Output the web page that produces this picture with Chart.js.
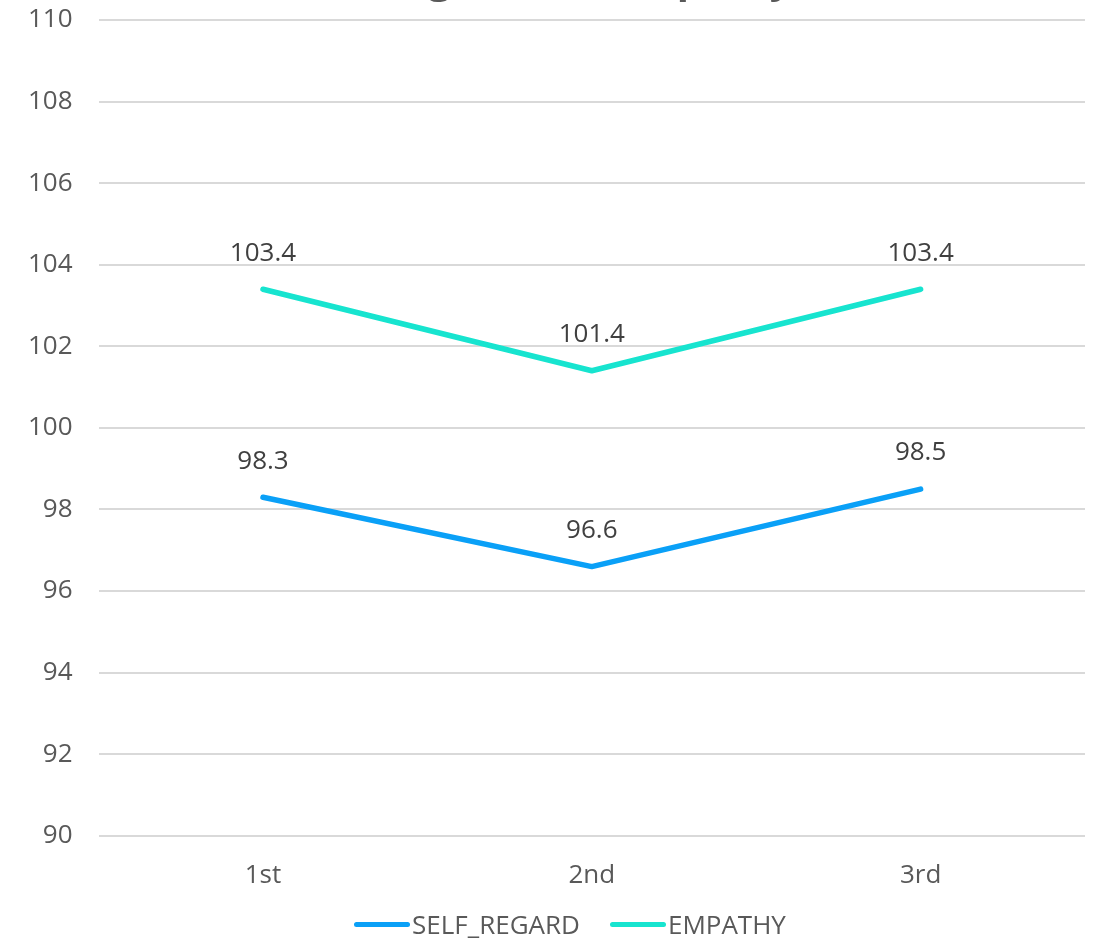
<!DOCTYPE html>
<html>
<head>
<meta charset="utf-8">
<script src="https://cdn.jsdelivr.net/npm/chart.js@4/dist/chart.umd.min.js"></script>
<style>
  html, body { margin: 0; padding: 0; background: #fff; }
  #wrap { position: relative; width: 1094px; height: 942px; overflow: hidden; }
  /* canvas is taller than the page and pulled up, so the title sits mostly above the top edge */
  #box { position: absolute; left: 0; top: -42px; width: 1094px; height: 984px; }
  #legend {
    position: absolute; left: 0; top: 906px; width: 1140px;
    display: flex; justify-content: center; align-items: center; gap: 30px;
    font-family: 'Open Sans', sans-serif; font-size: 26px; color: #595959;
  }
  #legend .item { display: flex; align-items: center; gap: 2px; }
  #legend .swatch { width: 56px; height: 5px; border-radius: 3px; }
</style>
</head>
<body>
<div id="wrap">
  <div id="box"><canvas id="myChart"></canvas></div>
  <div id="legend"></div>
</div>
<script>
const rounds = ["1st", "2nd", "3rd"];
const selfRegard = [98.3, 96.6, 98.5];
const empathy = [103.4, 101.4, 103.4];
const seriesNames = ["SELF_REGARD", "EMPATHY"];
const seriesColors = ["#0AA0F7", "#17E4CF"];
const chartTitle = "Self Regard and Empathy";

const FONT = "'Open Sans'";

// value labels above every point
const valueLabels = {
  id: "valueLabels",
  afterDatasetsDraw(chart) {
    const ctx = chart.ctx;
    ctx.save();
    ctx.font = "26px " + FONT;
    ctx.fillStyle = "#404040";
    ctx.textAlign = "center";
    ctx.textBaseline = "middle";
    chart.data.datasets.forEach((ds, i) => {
      const meta = chart.getDatasetMeta(i);
      meta.data.forEach((pt, j) => {
        ctx.fillText(ds.data[j].toFixed(1), pt.x, pt.y - 36);
      });
    });
    ctx.restore();
  },
};

// html legend under the chart (line swatch hugging the name)
function buildLegend(chart) {
  const box = document.getElementById("legend");
  box.innerHTML = "";
  chart.data.datasets.forEach((ds) => {
    const item = document.createElement("div");
    item.className = "item";
    const sw = document.createElement("span");
    sw.className = "swatch";
    sw.style.background = ds.borderColor;
    const txt = document.createElement("span");
    txt.textContent = ds.label;
    item.appendChild(sw);
    item.appendChild(txt);
    box.appendChild(item);
  });
}

document.addEventListener("DOMContentLoaded", () => {
  const ctx = document.getElementById("myChart").getContext("2d");
  const datasets = [selfRegard, empathy].map((vals, i) => ({
    label: seriesNames[i],
    data: vals,
    borderColor: seriesColors[i],
    backgroundColor: seriesColors[i],
    borderWidth: 5.5,
    borderCapStyle: "round",
    borderJoinStyle: "round",
    pointRadius: 0,
    pointHoverRadius: 0,
    tension: 0,
    fill: false,
  }));

  const chart = new Chart(ctx, {
    type: "line",
    data: { labels: rounds, datasets: datasets },
    plugins: [valueLabels],
    options: {
      responsive: true,
      maintainAspectRatio: false,
      animation: false,
      layout: { padding: { left: 2, right: 9, top: 0, bottom: 35 } },
      plugins: {
        title: {
          display: true,
          text: chartTitle,
          color: "#595959",
          font: { family: FONT, size: 40, weight: "bold" },
          padding: { top: 0, bottom: 14 },
        },
        legend: { display: false },
        tooltip: { enabled: false },
      },
      scales: {
        x: {
          offset: true,
          grid: { display: false },
          border: { display: false },
          ticks: {
            color: "#595959",
            padding: 16,
            font: { family: FONT, size: 26 },
          },
        },
        y: {
          min: 90,
          max: 110,
          grid: { color: "#d9d9d9", lineWidth: 2, drawTicks: false },
          border: { display: false },
          ticks: {
            stepSize: 2,
            color: "#595959",
            padding: 26,
            font: { family: FONT, size: 26 },
          },
        },
      },
    },
  });
  buildLegend(chart);
});
</script>
</body>
</html>
